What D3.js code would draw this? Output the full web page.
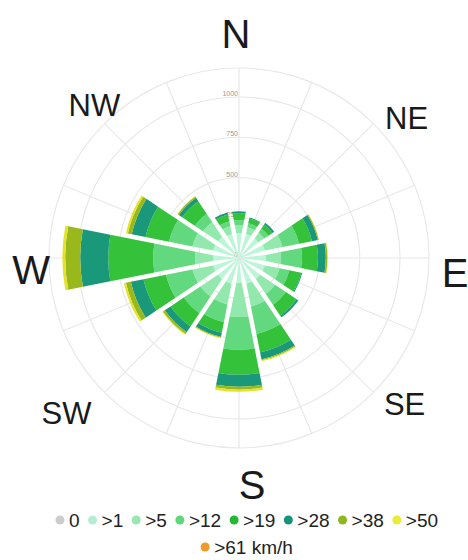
<!DOCTYPE html>
<html><head><meta charset="utf-8">
<script src="https://cdn.jsdelivr.net/npm/d3@7"></script>
<style>body{margin:0;background:#fff}svg{display:block}</style>
</head><body>
<svg id="c" width="468" height="560"></svg>
<script>
// ---- data ----
const directions = ["N","NNE","NE","ENE","E","ESE","SE","SSE","S","SSW","SW","WSW","W","WNW","NW","NNW"];
const seriesNames = ["0", ">1", ">5", ">12", ">19", ">28", ">38", ">50", ">61 km/h"];
const speed0  = [0,0,0,0,0,0,0,0,0,0,0,0,0,0,0,0];
const speed1  = [155,155,155,167,167,167,167,167,155,167,167,167,161,167,167,155];
const speed5  = [50,43,43,112,93,93,112,143,211,131,131,131,112,131,112,50];
const speed12 = [31,25,31,105,131,62,81,174,204,111,124,167,260,148,62,31];
const speed19 = [43,31,31,81,99,75,80,117,155,68,99,143,279,149,93,43];
const speed28 = [12,6,13,37,49,6,13,44,75,25,43,80,174,87,25,12];
const speed38 = [0,0,0,6,10,0,0,6,18,6,13,31,93,25,9,0];
const speed50 = [0,0,0,2,3,0,0,6,13,3,6,13,18,12,3,0];
const speed61 = [0,0,0,0,0,0,0,0,0,0,0,0,0,0,0,0];
const radialTicks = [0,250,500,750,1000];
const compassLabels = ["N","NE","E","SE","S","SW","W","NW"];

// ---- styles / layout ----
const colors = ["#c8c8c8","#bdf5d8","#92e8ad","#62d97e","#33c23a","#19987a","#98b81c","#e4e22c","#f0a030"];
const legendColors = ["#cccccc","#b5ecd2","#98e6b4","#5ed87a","#22b830","#17937a","#8cb81e","#eaea3a","#f09a28"];
const cx = 239, cy = 258, rMax = 190, yMax = 1180;
const labelNudge = {N:[-3,-4],NE:[12,16],E:[-4,15],SE:[10,-9],S:[13,7],SW:[-17,0],W:[12,12],NW:[11,3]};

const svg = d3.select("#c");
const g = svg.append("g").attr("transform", `translate(${cx},${cy})`);
const r = d3.scaleLinear().domain([0, yMax]).range([0, rMax]);
const step = 2*Math.PI/directions.length;
const ang = d3.scaleBand().domain(directions).range([-step/2, 2*Math.PI - step/2]);

// grid
const grid = g.append("g");
radialTicks.filter(t=>t>0).concat([yMax]).forEach(t=>{
  grid.append("circle").attr("r", r(t)).attr("fill","none").attr("stroke","#e8e8e8").attr("stroke-width",1.2);
});
directions.forEach((d,i)=>{
  const a = i*step;
  grid.append("line").attr("x1",0).attr("y1",0)
    .attr("x2", rMax*Math.sin(a)).attr("y2", -rMax*Math.cos(a))
    .attr("stroke","#e8e8e8").attr("stroke-width",1.2);
});
// radial tick labels
g.append("g").selectAll("text").data(radialTicks).join("text")
  .attr("x",-1).attr("y",t=>-r(t)-1)
  .attr("text-anchor","end")
  .attr("font-family","Liberation Sans, Arial, sans-serif")
  .attr("font-size",7).attr("fill","#999")
  .text(d=>d);

// stacked bars
const allSeries = [speed0,speed1,speed5,speed12,speed19,speed28,speed38,speed50,speed61];
const table = directions.map((d,i)=>{
  const row = {dir:d};
  seriesNames.forEach((s,k)=>row[s]=allSeries[k][i]);
  return row;
});
const stacked = d3.stack().keys(seriesNames)(table);
const arc = d3.arc().padRadius(100).padAngle(0.045);
g.append("g").selectAll("g").data(stacked).join("g")
  .attr("fill",(s,k)=>colors[k])
  .selectAll("path").data(s=>s.filter(p=>p[1]-p[0]>0)).join("path")
  .attr("d", p=>arc({
    innerRadius: r(p[0]), outerRadius: r(p[1]),
    startAngle: ang(p.data.dir), endAngle: ang(p.data.dir)+ang.bandwidth()
  }));

// compass labels
compassLabels.forEach(lab=>{
  const i = directions.indexOf(lab);
  const a = i*step;
  const big = lab.length===1;
  const n = labelNudge[lab];
  g.append("text")
    .attr("x", 220*Math.sin(a)+n[0])
    .attr("y", -220*Math.cos(a)+n[1])
    .attr("text-anchor","middle").attr("dominant-baseline","central")
    .attr("font-family","Liberation Sans, Arial, sans-serif")
    .attr("font-size", big?40:31).attr("fill","#1a1a1a")
    .text(lab);
});

// legend (flow layout)
const leg = svg.append("g").attr("font-family","Liberation Sans, Arial, sans-serif").attr("font-size",19).attr("fill","#222");
const items = seriesNames.map((s,k)=>{
  const it = leg.append("g");
  it.append("circle").attr("r",4.5).attr("cx",0).attr("cy",0).attr("fill",legendColors[k]);
  const t = it.append("text").attr("x",9).attr("y",0).attr("dominant-baseline","central").text(s);
  return {node:it, w: 9 + t.node().getComputedTextLength()};
});
const gap = 13, maxW = 410;
const rows = [[]]; let rw = 0;
items.forEach(it=>{
  const need = (rows[rows.length-1].length? gap:0) + it.w;
  if (rw + need > maxW && rows[rows.length-1].length){ rows.push([]); rw = 0; }
  rows[rows.length-1].push(it); rw += (rows[rows.length-1].length>1?gap:0) + it.w;
});
const rowY = [520, 547];
rows.forEach((row,ri)=>{
  const total = d3.sum(row,d=>d.w) + gap*(row.length-1);
  let x = 249 - total/2;
  row.forEach(it=>{ it.node.attr("transform",`translate(${x},${rowY[ri]})`); x += it.w + gap; });
});
</script>
</body></html>
